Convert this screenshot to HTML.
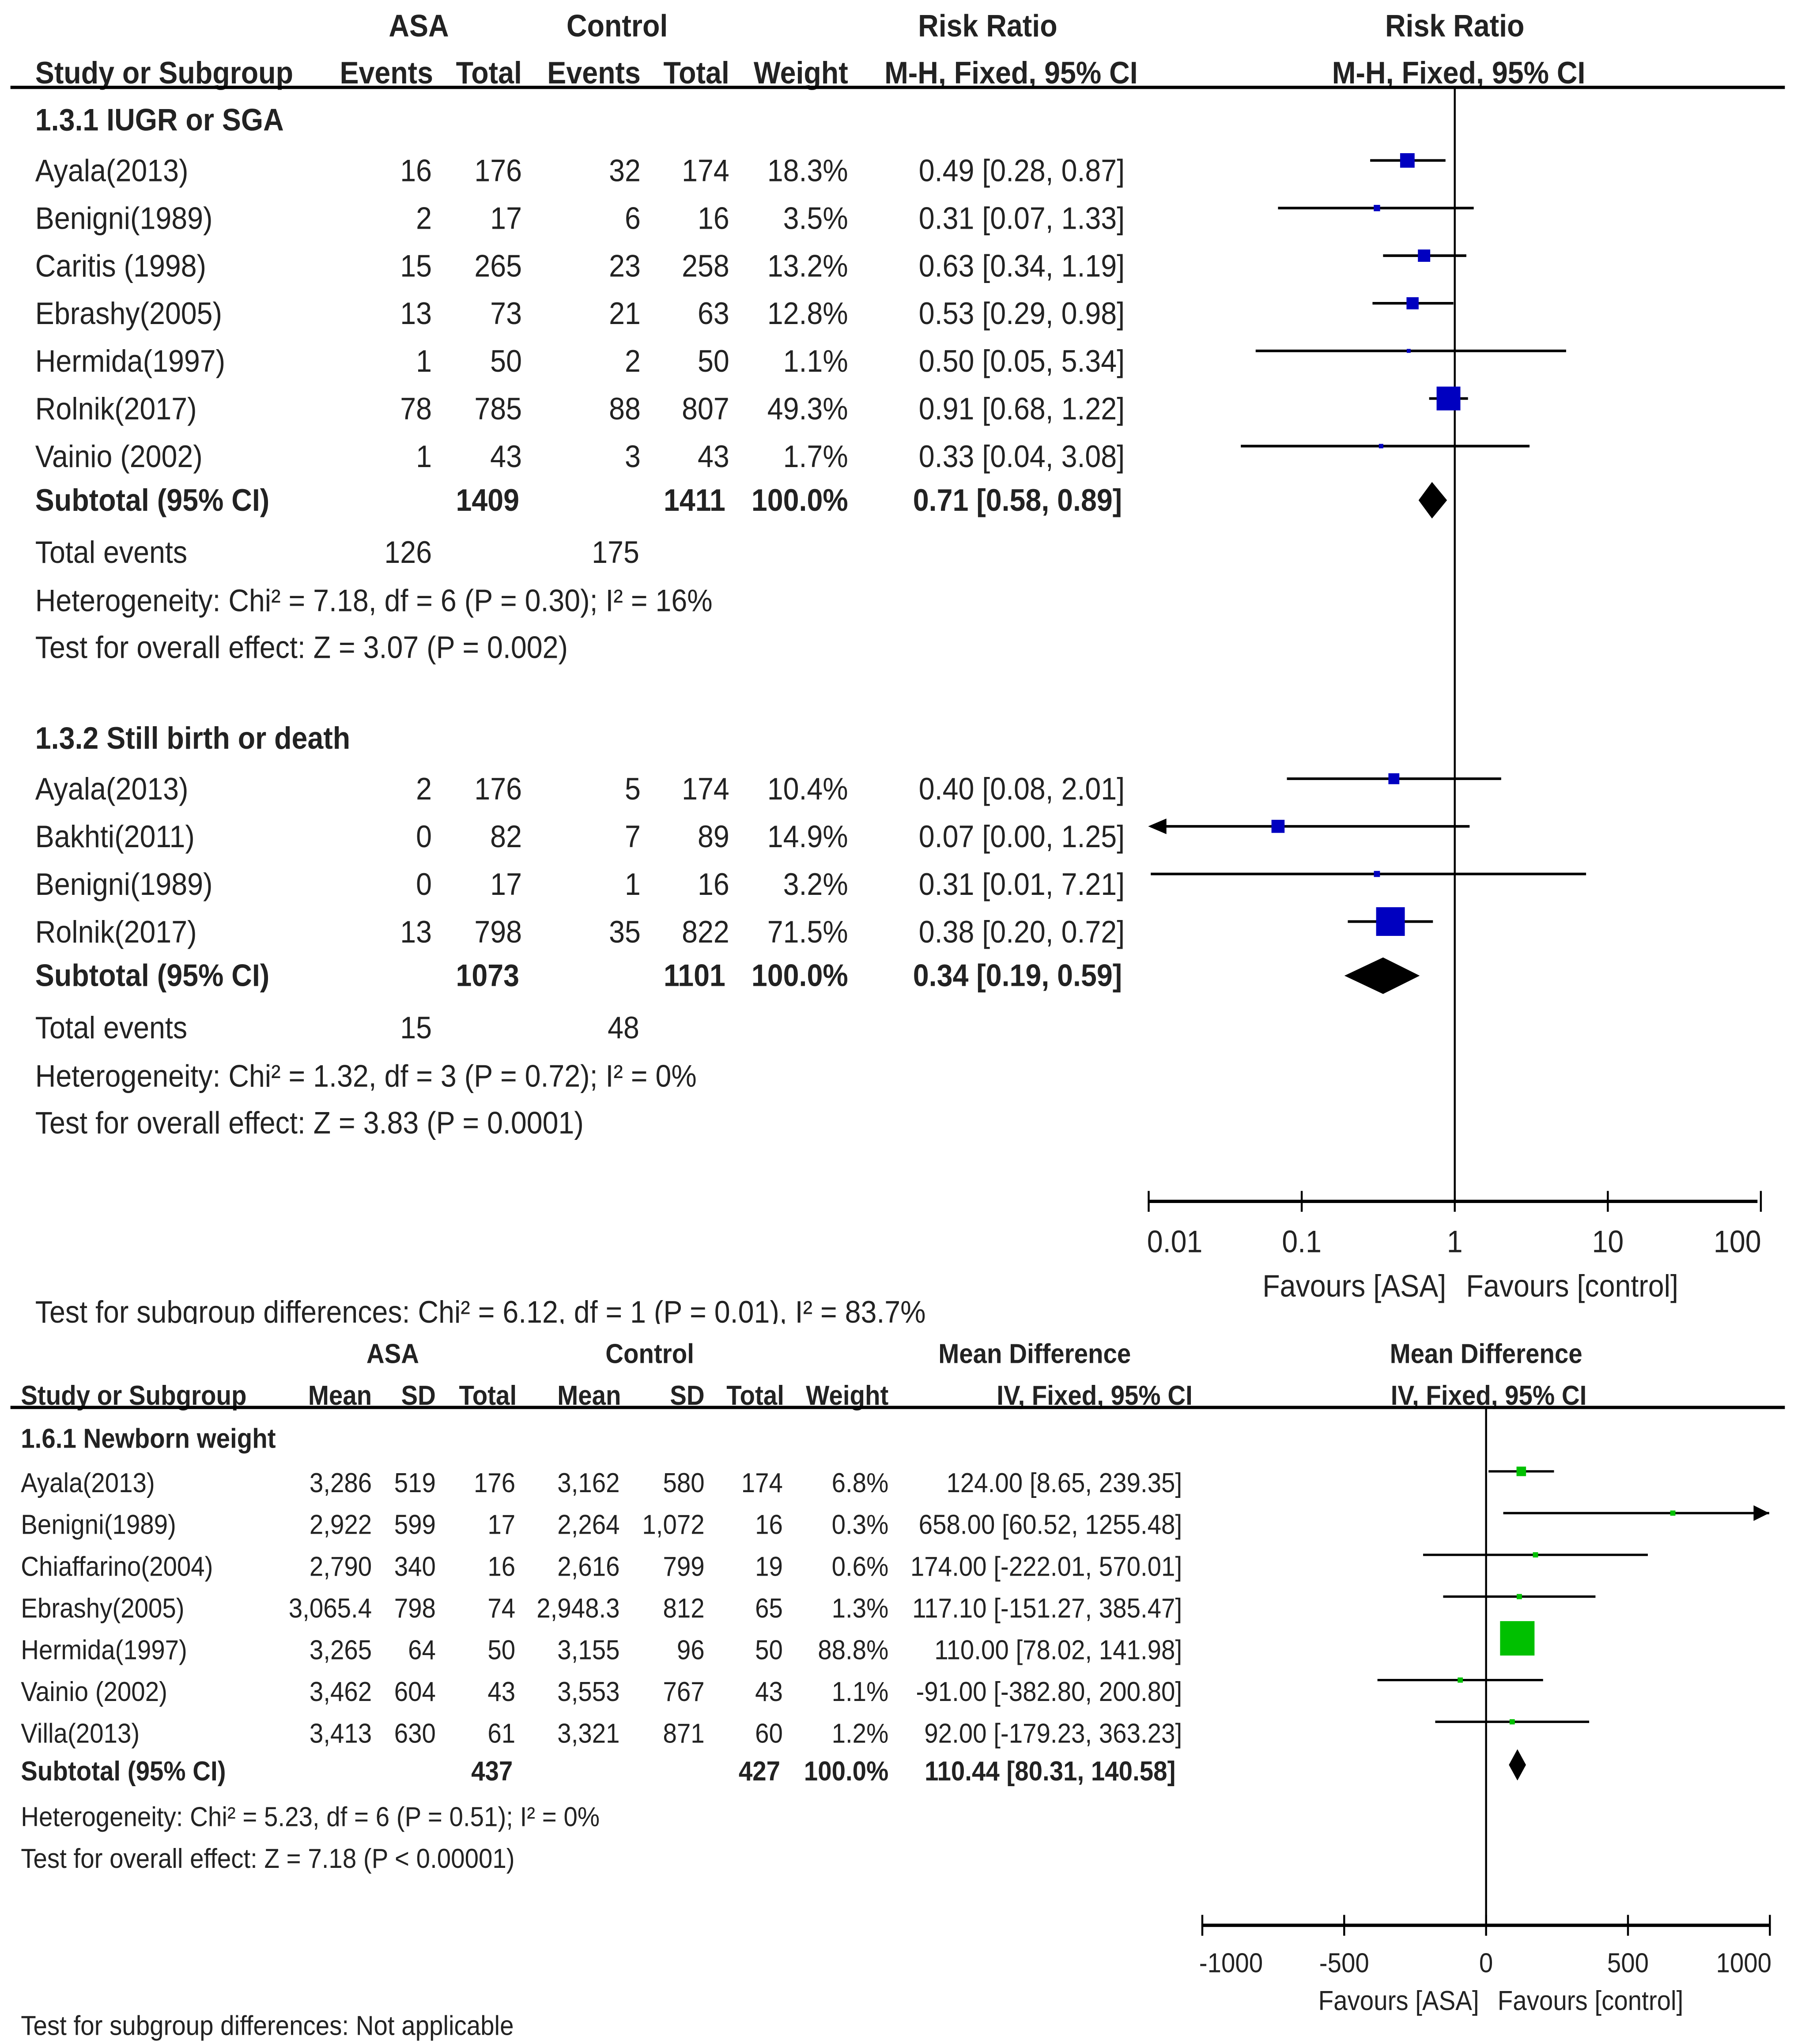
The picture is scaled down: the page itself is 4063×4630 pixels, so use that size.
<!DOCTYPE html>
<html><head><meta charset="utf-8"><style>
html,body{margin:0;padding:0;background:#fff;}
svg{display:block;}
text{font-family:"Liberation Sans Narrow","Liberation Sans",sans-serif;fill:#222;}
.b{font-weight:bold;}
</style></head><body>
<svg id="chart" width="4063" height="4630" viewBox="0 0 1375 1567" preserveAspectRatio="none" xmlns="http://www.w3.org/2000/svg">
<g id="topplot"></g>
<g id="botplot"></g>
</svg>
<script>
// ---- Top plot data ----
const rrStudies1 = ["Ayala(2013)","Benigni(1989)","Caritis (1998)","Ebrashy(2005)","Hermida(1997)","Rolnik(2017)","Vainio (2002)"];
const rrAsaEv1 = ["16","2","15","13","1","78","1"];
const rrAsaTot1 = ["176","17","265","73","50","785","43"];
const rrCtlEv1 = ["32","6","23","21","2","88","3"];
const rrCtlTot1 = ["174","16","258","63","50","807","43"];
const rrWeight1 = [18.3,3.5,13.2,12.8,1.1,49.3,1.7];
const rrEst1 = [0.49,0.31,0.63,0.53,0.50,0.91,0.33];
const rrLo1 = [0.28,0.07,0.34,0.29,0.05,0.68,0.04];
const rrHi1 = [0.87,1.33,1.19,0.98,5.34,1.22,3.08];
const rrSub1 = [0.71,0.58,0.89];
const rrStudies2 = ["Ayala(2013)","Bakhti(2011)","Benigni(1989)","Rolnik(2017)"];
const rrAsaEv2 = ["2","0","0","13"];
const rrAsaTot2 = ["176","82","17","798"];
const rrCtlEv2 = ["5","7","1","35"];
const rrCtlTot2 = ["174","89","16","822"];
const rrWeight2 = [10.4,14.9,3.2,71.5];
const rrEst2 = [0.40,0.07,0.31,0.38];
const rrLo2 = [0.08,0.00,0.01,0.20];
const rrHi2 = [2.01,1.25,7.21,0.72];
const rrSub2 = [0.34,0.19,0.59];
const rrTicks = [0.01,0.1,1,10,100];
const rrTickLabels = ["0.01","0.1","1","10","100"];
// ---- Bottom plot data ----
const mdStudies = ["Ayala(2013)","Benigni(1989)","Chiaffarino(2004)","Ebrashy(2005)","Hermida(1997)","Vainio (2002)","Villa(2013)"];
const mdAsaMean = ["3,286","2,922","2,790","3,065.4","3,265","3,462","3,413"];
const mdAsaSD = ["519","599","340","798","64","604","630"];
const mdAsaN = ["176","17","16","74","50","43","61"];
const mdCtlMean = ["3,162","2,264","2,616","2,948.3","3,155","3,553","3,321"];
const mdCtlSD = ["580","1,072","799","812","96","767","871"];
const mdCtlN = ["174","16","19","65","50","43","60"];
const mdWeight = [6.8,0.3,0.6,1.3,88.8,1.1,1.2];
const mdEst = [124.00,658.00,174.00,117.10,110.00,-91.00,92.00];
const mdLo = [8.65,60.52,-222.01,-151.27,78.02,-382.80,-179.23];
const mdHi = [239.35,1255.48,570.01,385.47,141.98,200.80,363.23];
const mdSub = [110.44,80.31,140.58];
const mdTicks = [-1000,-500,0,500,1000];
const mdTickLabels = ["-1000","-500","0","500","1000"];

const NS="http://www.w3.org/2000/svg";
const SX=0.91;
function mk(parent,tag,attrs){const e=document.createElementNS(NS,tag);for(const k in attrs)e.setAttribute(k,attrs[k]);parent.appendChild(e);return e;}
function txt(parent,x,y,s,size,anchor,bold,name){
  const t=mk(parent,'text',{x:0,y:0,'font-size':size,'text-anchor':anchor||'start',transform:`translate(${x},${y}) scale(${SX},1)`});
  if(bold)t.setAttribute('class','b');
  
  
  t.textContent=s;return t;}
function line(parent,x1,y1,x2,y2,w,name){
  const l=mk(parent,'line',{x1:x1,y1:y1,x2:x2,y2:y2,stroke:'#000','stroke-width':w});
  
  
  return l;}
function f2(v){return v.toFixed(2);}
function pct(v){return v.toFixed(1)+'%';}

const topG=document.getElementById('topplot');
const rx=v=>1115+117.3*Math.log10(Math.max(v,0.0095));
const rxMin=880, rxMax=1347;
const F=24;
txt(topG,321,28,"ASA",F,'middle',true,'asa-header');
txt(topG,473,28,"Control",F,'middle',true,'control-header');
txt(topG,757,28,"Risk Ratio",F,'middle',true,'risk-ratio-header');
txt(topG,1115,28,"Risk Ratio",F,'middle',true,'plot-header');
txt(topG,27,64,"Study or Subgroup",F,'start',true,'study-header');
txt(topG,332,64,"Events",F,'end',true,'col-header');
txt(topG,400,64,"Total",F,'end',true,'col-header');
txt(topG,491,64,"Events",F,'end',true,'col-header');
txt(topG,559,64,"Total",F,'end',true,'col-header');
txt(topG,650,64,"Weight",F,'end',true,'col-header');
txt(topG,872,64,"M-H, Fixed, 95% CI",F,'end',true,'col-header');
txt(topG,1118,64,"M-H, Fixed, 95% CI",F,'middle',true,'col-header');
line(topG,8,67,1368,67,2.5,'header-rule');
line(topG,1115,67,1115,921,1.5,'null-line');
line(topG,rxMin,921,rxMax,921,2.5,'x-axis');
rrTicks.forEach((t,i)=>{line(topG,rx(t),913,rx(t),929,1.5,'x-tick');txt(topG,rx(t)+(i==0?20:i==4?-18:0),960,rrTickLabels[i],F,'middle',false,'x-tick-label');});
txt(topG,1038,994,"Favours [ASA]",F,'middle',false,'favours-asa');
txt(topG,1205,994,"Favours [control]",F,'middle',false,'favours-control');

function rrGroup(title,y0,studies,ae,at,ce,ct,w,est,lo,hi,sub,subA,subC,totA,totC,het,ovr){
  txt(topG,27,y0,title,F,'start',true,'subgroup-title');
  studies.forEach((s,i)=>{
    const y=y0+39+i*36.5;
    txt(topG,27,y,s,F,'start',false,'study-name');
    txt(topG,331,y,ae[i],F,'end',false,'asa-events');
    txt(topG,400,y,at[i],F,'end',false,'asa-total');
    txt(topG,491,y,ce[i],F,'end',false,'control-events');
    txt(topG,559,y,ct[i],F,'end',false,'control-total');
    txt(topG,650,y,pct(w[i]),F,'end',false,'weight');
    txt(topG,862,y,f2(est[i])+" ["+f2(lo[i])+", "+f2(hi[i])+"]",F,'end',false,'effect-ci');
    const my=y-16;
    const x1=Math.max(rx(lo[i]),rxMin+2), x2=Math.min(rx(hi[i]),rxMax);
    line(topG,x1,my,x2,my,2,'ci-line');
    if(rx(lo[i])<rxMin){const a=mk(topG,'path',{d:`M${rxMin} ${my} l14 -6 v12 z`,fill:'#000'});}
    const sz=Math.max(3,Math.sqrt(w[i])*2.6);
    const r=mk(topG,'rect',{x:rx(est[i])-sz/2,y:my-sz/2,width:sz,height:sz,fill:'#0000c0'});
    
    
  });
  const ys=y0+39+studies.length*36.5-3;
  txt(topG,27,ys,"Subtotal (95% CI)",F,'start',true,'subtotal-label');
  txt(topG,398,ys,subA,F,'end',true,'subtotal-asa');
  txt(topG,556,ys,subC,F,'end',true,'subtotal-control');
  txt(topG,650,ys,"100.0%",F,'end',true,'subtotal-weight');
  txt(topG,860,ys,f2(sub[0])+" ["+f2(sub[1])+", "+f2(sub[2])+"]",F,'end',true,'subtotal-ci');
  const dy=ys-8;
  const d=mk(topG,'path',{d:`M${rx(sub[1])} ${dy} L${rx(sub[0])} ${dy-14} L${rx(sub[2])} ${dy} L${rx(sub[0])} ${dy+14} Z`,fill:'#000'});
  
  
  txt(topG,27,ys+40,"Total events",F,'start',false,'total-events');
  txt(topG,331,ys+40,totA,F,'end',false,'total-events-asa');
  txt(topG,490,ys+40,totC,F,'end',false,'total-events-control');
  txt(topG,27,ys+77,het,F,'start',false,'heterogeneity');
  txt(topG,27,ys+113,ovr,F,'start',false,'overall-effect');
}
rrGroup("1.3.1 IUGR or SGA",100,rrStudies1,rrAsaEv1,rrAsaTot1,rrCtlEv1,rrCtlTot1,rrWeight1,rrEst1,rrLo1,rrHi1,rrSub1,"1409","1411","126","175","Heterogeneity: Chi² = 7.18, df = 6 (P = 0.30); I² = 16%","Test for overall effect: Z = 3.07 (P = 0.002)");
rrGroup("1.3.2 Still birth or death",574,rrStudies2,rrAsaEv2,rrAsaTot2,rrCtlEv2,rrCtlTot2,rrWeight2,rrEst2,rrLo2,rrHi2,rrSub2,"1073","1101","15","48","Heterogeneity: Chi² = 1.32, df = 3 (P = 0.72); I² = 0%","Test for overall effect: Z = 3.83 (P = 0.0001)");
txt(topG,27,1014,"Test for subgroup differences: Chi² = 6.12, df = 1 (P = 0.01), I² = 83.7%",F,'start',false,'subgroup-differences');
const cover=mk(topG,'rect',{x:0,y:1015,width:1375,height:10,fill:'#fff'});



// ---- bottom ----
const botG=document.getElementById('botplot');
const G=21;
const mx=v=>1139+0.2175*v;
txt(botG,301,1045,"ASA",G,'middle',true,'asa-header');
txt(botG,498,1045,"Control",G,'middle',true,'control-header');
txt(botG,793,1045,"Mean Difference",G,'middle',true,'md-header');
txt(botG,1139,1045,"Mean Difference",G,'middle',true,'plot-header');
txt(botG,16,1077,"Study or Subgroup",G,'start',true,'study-header');
[[285,"Mean"],[334,"SD"],[396,"Total"],[476,"Mean"],[540,"SD"],[601,"Total"],[681,"Weight"],[914,"IV, Fixed, 95% CI"]].forEach(c=>txt(botG,c[0],1077,c[1],G,'end',true,'col-header'));
txt(botG,1141,1077,"IV, Fixed, 95% CI",G,'middle',true,'col-header');
line(botG,8,1079,1368,1079,2.5,'header-rule');
line(botG,1139,1079,1139,1476,1.5,'null-line');
line(botG,mx(-1000),1476,mx(1000),1476,2.5,'x-axis');
mdTicks.forEach((t,i)=>{line(botG,mx(t),1468,mx(t),1484,1.5,'x-tick');txt(botG,mx(t)+(i==0?22:i==4?-20:0),1512,mdTickLabels[i],G,'middle',false,'x-tick-label');});
txt(botG,1072,1541,"Favours [ASA]",G,'middle',false,'favours-asa');
txt(botG,1219,1541,"Favours [control]",G,'middle',false,'favours-control');
txt(botG,16,1110,"1.6.1 Newborn weight",G,'start',true,'subgroup-title');
mdStudies.forEach((s,i)=>{
  const y=1144+i*32;
  txt(botG,16,y,s,G,'start',false,'study-name');
  [[285,mdAsaMean[i]],[334,mdAsaSD[i]],[395,mdAsaN[i]],[475,mdCtlMean[i]],[540,mdCtlSD[i]],[600,mdCtlN[i]],[681,pct(mdWeight[i])],[906,f2(mdEst[i])+" ["+f2(mdLo[i])+", "+f2(mdHi[i])+"]"]].forEach(c=>txt(botG,c[0],y,c[1],G,'end',false,'cell'));
  const my=y-16;
  const x1=mx(mdLo[i]), x2=Math.min(mx(mdHi[i]),1356);
  line(botG,x1,my,x2,my,1.8,'ci-line');
  if(mx(mdHi[i])>1356){const a=mk(botG,'path',{d:`M1356 ${my} l-12 -6 v12 z`,fill:'#000'});}
  const sz=Math.max(4,Math.sqrt(mdWeight[i])*2.8);
  const r=mk(botG,'rect',{x:mx(mdEst[i])-sz/2,y:my-sz/2,width:sz,height:sz,fill:'#00c000'});
  
  
});
const ysb=1365;
txt(botG,16,ysb,"Subtotal (95% CI)",G,'start',true,'subtotal-label');
txt(botG,393,ysb,"437",G,'end',true,'subtotal-asa');
txt(botG,598,ysb,"427",G,'end',true,'subtotal-control');
txt(botG,681,ysb,"100.0%",G,'end',true,'subtotal-weight');
txt(botG,901,ysb,f2(mdSub[0])+" ["+f2(mdSub[1])+", "+f2(mdSub[2])+"]",G,'end',true,'subtotal-ci');
const d2=mk(botG,'path',{d:`M${mx(mdSub[1])} ${ysb-12} L${mx(mdSub[0])} ${ysb-24} L${mx(mdSub[2])} ${ysb-12} L${mx(mdSub[0])} ${ysb} Z`,fill:'#000'});


txt(botG,16,1400,"Heterogeneity: Chi² = 5.23, df = 6 (P = 0.51); I² = 0%",G,'start',false,'heterogeneity');
txt(botG,16,1432,"Test for overall effect: Z = 7.18 (P < 0.00001)",G,'start',false,'overall-effect');
txt(botG,16,1560,"Test for subgroup differences: Not applicable",G,'start',false,'subgroup-differences');
</script>
</body></html>
